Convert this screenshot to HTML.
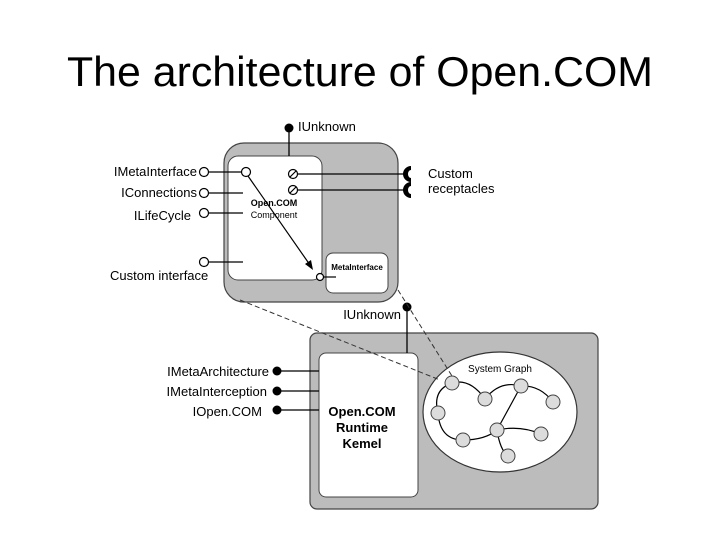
<!DOCTYPE html>
<html><head><meta charset="utf-8"><style>
html,body{margin:0;padding:0;background:#fff;}
svg{display:block;font-family:"Liberation Sans",Arial,sans-serif;}
</style></head><body>
<svg width="720" height="540" viewBox="0 0 720 540">
<text x="360" y="86" font-size="42" text-anchor="middle" fill="#000" textLength="586" lengthAdjust="spacingAndGlyphs">The architecture of Open.COM</text>

<!-- top component -->
<rect x="224" y="143" width="174" height="159" rx="20" fill="#bcbcbc" stroke="#444" stroke-width="1.2"/>
<rect x="228" y="156" width="94" height="124" rx="10" fill="#fff" stroke="#444" stroke-width="1"/>
<rect x="326" y="253" width="62" height="40" rx="7" fill="#fff" stroke="#444" stroke-width="1"/>
<text x="357" y="270" font-size="8" text-anchor="middle" font-weight="bold">MetaInterface</text>
<line x1="289" y1="128" x2="289" y2="156" stroke="#000" stroke-width="1.3"/>
<circle cx="289" cy="128" r="4.5" fill="#000"/>
<text x="298" y="131" font-size="13">IUnknown</text>

<g stroke="#000" stroke-width="1.2" fill="#fff">
<line x1="209" y1="172" x2="241" y2="172"/>
<line x1="209" y1="193" x2="243" y2="193"/>
<line x1="209" y1="213" x2="243" y2="213"/>
<line x1="209" y1="262" x2="243" y2="262"/>
<circle cx="204" cy="172" r="4.5"/>
<circle cx="204" cy="193" r="4.5"/>
<circle cx="204" cy="213" r="4.5"/>
<circle cx="204" cy="262" r="4.5"/>
<circle cx="246" cy="172" r="4.5"/>
<line x1="298" y1="174" x2="405" y2="174"/>
<line x1="298" y1="190" x2="405" y2="190"/>
<circle cx="293" cy="174" r="4.5"/>
<circle cx="293" cy="190" r="4.5"/>
<line x1="290" y1="177" x2="296" y2="171"/>
<line x1="290" y1="193" x2="296" y2="187"/>
<line x1="324" y1="277" x2="336" y2="277"/>
<circle cx="320" cy="277" r="3.5"/>
</g>
<path d="M411,166 A8,8 0 0 0 411,182 L411,178 A3,4 0 0 1 411,170 Z" fill="#000"/>
<path d="M411,182 A8,8 0 0 0 411,198 L411,194 A3,4 0 0 1 411,186 Z" fill="#000"/>
<line x1="248" y1="176" x2="310" y2="265" stroke="#000" stroke-width="1.2"/>
<polygon points="313,270 305,264 311,260" fill="#000"/>

<text x="197" y="176" font-size="13" text-anchor="end">IMetaInterface</text>
<text x="197" y="197" font-size="13" text-anchor="end">IConnections</text>
<text x="191" y="220" font-size="13" text-anchor="end">ILifeCycle</text>
<text x="110" y="280" font-size="13">Custom interface</text>
<text x="428" y="178" font-size="13">Custom</text>
<text x="428" y="193" font-size="13">receptacles</text>
<text x="274" y="206" font-size="9" text-anchor="middle" font-weight="bold">Open.COM</text>
<text x="274" y="218" font-size="9" text-anchor="middle">Component</text>

<!-- bottom runtime -->
<rect x="310" y="333" width="288" height="176" rx="7" fill="#bcbcbc" stroke="#444" stroke-width="1.2"/>
<rect x="319" y="353" width="99" height="144" rx="7" fill="#fff" stroke="#444" stroke-width="1"/>
<line x1="407" y1="307" x2="407" y2="353" stroke="#000" stroke-width="1.3"/>
<circle cx="407" cy="307" r="4.5" fill="#000"/>
<text x="401" y="319" font-size="13" text-anchor="end">IUnknown</text>
<g stroke="#000" stroke-width="1.2">
<line x1="277" y1="371" x2="319" y2="371"/>
<line x1="277" y1="391" x2="319" y2="391"/>
<line x1="277" y1="410" x2="319" y2="410"/>
</g>
<circle cx="277" cy="371" r="4.5" fill="#000"/>
<circle cx="277" cy="391" r="4.5" fill="#000"/>
<circle cx="277" cy="410" r="4.5" fill="#000"/>
<text x="269" y="376" font-size="13" text-anchor="end">IMetaArchitecture</text>
<text x="267" y="396" font-size="13" text-anchor="end">IMetaInterception</text>
<text x="262" y="416" font-size="13" text-anchor="end">IOpen.COM</text>
<text x="362" y="416" font-size="13" font-weight="bold" text-anchor="middle">Open.COM</text>
<text x="362" y="432" font-size="13" font-weight="bold" text-anchor="middle">Runtime</text>
<text x="362" y="448" font-size="13" font-weight="bold" text-anchor="middle">Kemel</text>

<ellipse cx="500" cy="412" rx="77" ry="60" fill="#fff" stroke="#333" stroke-width="1.2"/>
<text x="500" y="372" font-size="10" text-anchor="middle">System Graph</text>

<!-- dashed connectors on top -->
<line x1="240" y1="300" x2="440" y2="380" stroke="#333" stroke-width="1" stroke-dasharray="5,3"/>
<line x1="398" y1="290" x2="452" y2="376" stroke="#333" stroke-width="1" stroke-dasharray="5,3"/>

<g stroke="#000" stroke-width="1.2" fill="none">
<path d="M452,383 Q432,390 438,413"/>
<path d="M438,413 Q440,440 463,440"/>
<path d="M463,440 Q485,440 497,430"/>
<path d="M452,383 Q470,378 485,399"/>
<path d="M485,399 Q500,380 521,386"/>
<path d="M521,386 Q540,385 553,402"/>
<line x1="521" y1="386" x2="497" y2="430"/>
<path d="M497,430 Q520,425 541,434"/>
<path d="M497,430 Q500,450 508,456"/>
</g>
<g fill="#dcdcdc" stroke="#444" stroke-width="1">
<circle cx="452" cy="383" r="7"/>
<circle cx="485" cy="399" r="7"/>
<circle cx="521" cy="386" r="7"/>
<circle cx="553" cy="402" r="7"/>
<circle cx="438" cy="413" r="7"/>
<circle cx="463" cy="440" r="7"/>
<circle cx="497" cy="430" r="7"/>
<circle cx="541" cy="434" r="7"/>
<circle cx="508" cy="456" r="7"/>
</g>
</svg>
</body></html>
